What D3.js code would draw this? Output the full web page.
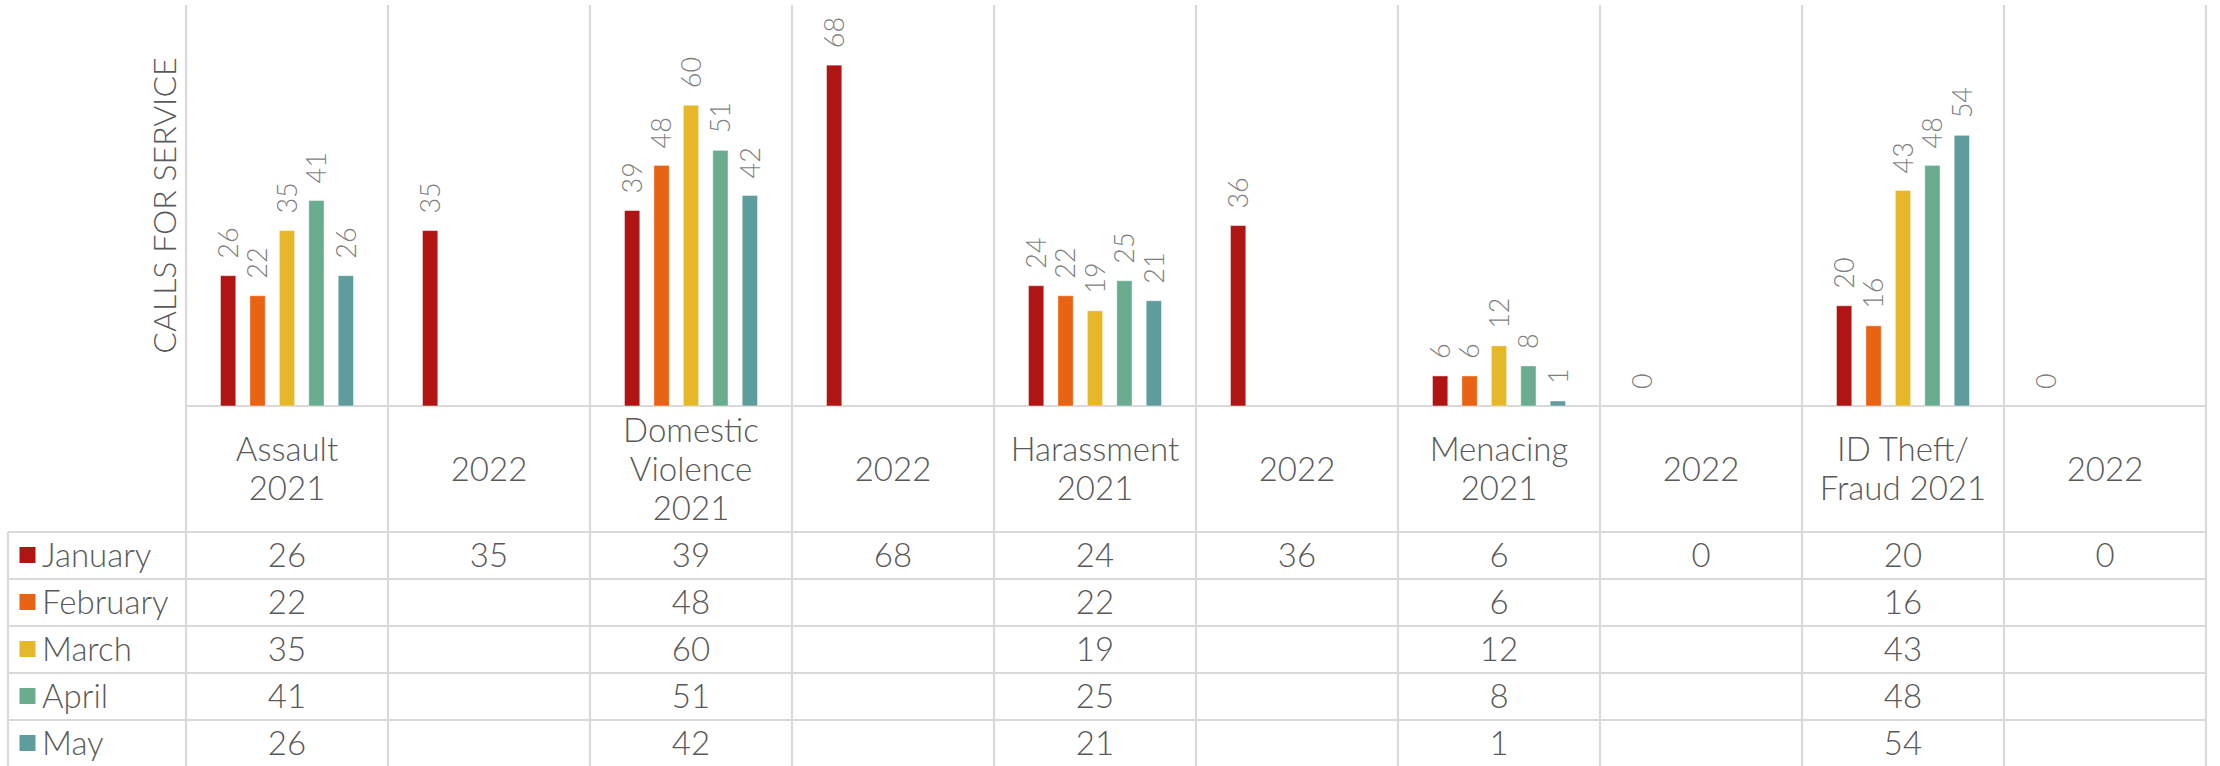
<!DOCTYPE html>
<html>
<head>
<meta charset="utf-8">
<script src="https://cdn.jsdelivr.net/npm/d3@7"></script>
<style>
  html, body { margin: 0; padding: 0; background: #fff; }
  svg { display: block; font-family: "Lato", "Open Sans", sans-serif; font-weight: 300; }
</style>
</head>
<body>
<svg id="chart" width="2220" height="766"></svg>
<script>
// ---- Data ----
const categories = [
  ["Assault", "2021"],
  ["2022"],
  ["Domestic", "Violence", "2021"],
  ["2022"],
  ["Harassment", "2021"],
  ["2022"],
  ["Menacing", "2021"],
  ["2022"],
  ["ID Theft/", "Fraud 2021"],
  ["2022"]
];
const months = ["January", "February", "March", "April", "May"];
const january  = [26, 35, 39, 68, 24, 36, 6, 0, 20, 0];
const february = [22, null, 48, null, 22, null, 6, null, 16, null];
const march    = [35, null, 60, null, 19, null, 12, null, 43, null];
const april    = [41, null, 51, null, 25, null, 8, null, 48, null];
const may      = [26, null, 42, null, 21, null, 1, null, 54, null];
const seriesValues = [january, february, march, april, may];
const colors = ["#B01513", "#EA6312", "#E6B729", "#6AAC90", "#5F9C9D"];
const yTitle = "CALLS FOR SERVICE";
const yMax = 80;

// ---- Layout ----
const svg = d3.select("#chart");
const plotLeft = 186, plotRight = 2206, plotTop = 5, baseY = 406;
const headerBottom = 532, rowH = 47, legendLeft = 8;
const gridColor = "#d9d9d9";
const textColor = "#595959";
const labelColor = "#7f7f7f";

const idx = d3.range(categories.length);
const x0 = d3.scaleBand().domain(idx).range([plotLeft, plotRight]).padding(0);
const x1 = d3.scaleBand().domain(months).range([0, x0.bandwidth()])
  .paddingInner(0.48).paddingOuter(1.172);
const y = d3.scaleLinear().domain([0, yMax]).range([baseY, plotTop]);

// ---- Grid / table lines ----
const lines = svg.append("g").attr("stroke", gridColor).attr("stroke-width", 2.2);
const bounds = idx.map(i => x0(i)).concat([plotRight]);
lines.selectAll("line.v").data(bounds).join("line")
  .attr("x1", d => d).attr("x2", d => d)
  .attr("y1", plotTop).attr("y2", 766);
lines.append("line").attr("x1", plotLeft).attr("x2", plotRight)
  .attr("y1", baseY).attr("y2", baseY);
const rowTops = months.map((m, i) => headerBottom + i * rowH).concat([headerBottom + months.length * rowH]);
lines.selectAll("line.h").data(rowTops).join("line")
  .attr("x1", legendLeft).attr("x2", plotRight)
  .attr("y1", d => d).attr("y2", d => d);
lines.append("line").attr("x1", legendLeft).attr("x2", legendLeft)
  .attr("y1", headerBottom).attr("y2", 766);

// ---- Bars ----
const groups = svg.append("g").selectAll("g").data(months).join("g")
  .attr("fill", (d, i) => colors[i]);
groups.each(function(m, si) {
  const vals = seriesValues[si];
  const g = d3.select(this);
  const pts = idx.filter(i => vals[i] !== null).map(i => ({ i, v: vals[i] }));
  g.selectAll("rect").data(pts).join("rect")
    .attr("x", d => x0(d.i) + x1(m))
    .attr("y", d => y(d.v))
    .attr("width", x1.bandwidth())
    .attr("height", d => baseY - y(d.v))
    .attr("stroke", "rgba(255,255,255,0.45)")
    .attr("stroke-width", 1);
  g.selectAll("text").data(pts).join("text")
    .attr("transform", d => `translate(${x0(d.i) + x1(m) + x1.bandwidth() / 2},${y(d.v) - 17}) rotate(-90)`)
    .attr("dy", "0.36em")
    .attr("text-anchor", "start")
    .attr("fill", labelColor)
    .attr("font-size", 27)
    .text(d => d.v);
});

// ---- Y axis title ----
svg.append("text")
  .attr("transform", `translate(176,${(plotTop + baseY) / 2}) rotate(-90)`)
  .attr("text-anchor", "middle")
  .attr("fill", textColor)
  .attr("font-size", 32)
  .text(yTitle);

// ---- Header row (category labels) ----
const headerMid = (baseY + headerBottom) / 2;
const lineGap = 39;
const hdr = svg.append("g").attr("fill", textColor).attr("font-size", 33).attr("text-anchor", "middle");
idx.forEach(i => {
  const ls = categories[i];
  const t = hdr.append("text").attr("x", x0(i) + x0.bandwidth() / 2);
  ls.forEach((s, k) => {
    t.append("tspan")
      .attr("x", x0(i) + x0.bandwidth() / 2)
      .attr("y", headerMid + (k - (ls.length - 1) / 2) * lineGap)
      .attr("dy", "0.36em")
      .text(s);
  });
});

// ---- Data table ----
const tbl = svg.append("g").attr("fill", textColor).attr("font-size", 33);
months.forEach((m, si) => {
  const cy = headerBottom + si * rowH + rowH / 2;
  tbl.append("rect").attr("x", 19.5).attr("y", cy - 8.5).attr("width", 16).attr("height", 16)
    .attr("fill", colors[si]);
  tbl.append("text").attr("x", 42).attr("y", cy).attr("dy", "0.36em").text(m);
  const vals = seriesValues[si];
  idx.forEach(i => {
    if (vals[i] === null) return;
    tbl.append("text").attr("x", x0(i) + x0.bandwidth() / 2).attr("y", cy)
      .attr("dy", "0.36em").attr("text-anchor", "middle").text(vals[i]);
  });
});
</script>
</body>
</html>
